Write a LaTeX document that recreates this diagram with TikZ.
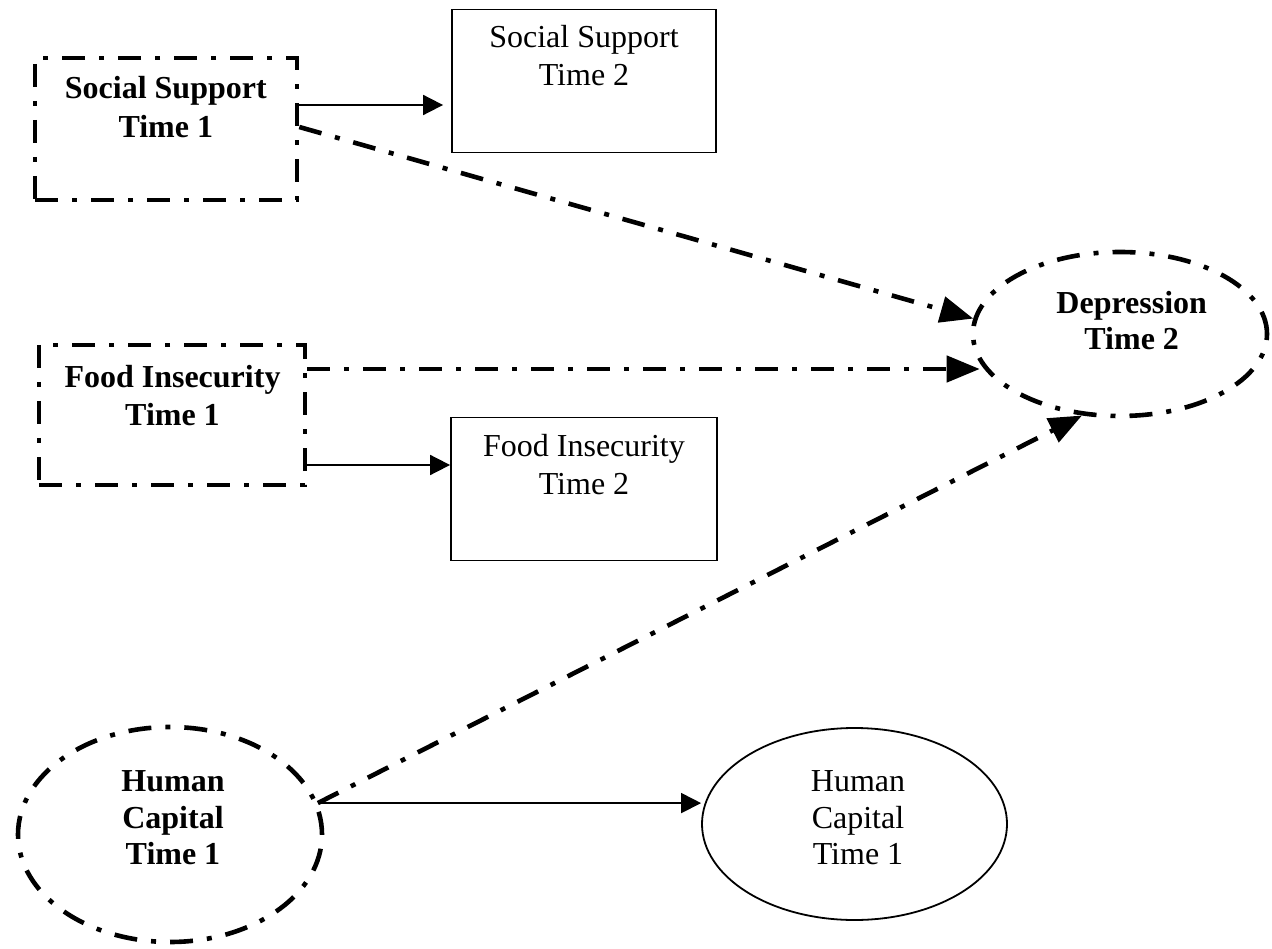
\documentclass[tikz,border=0pt]{standalone}
\usepackage{fontspec}
\setmainfont{Liberation Serif}
\usetikzlibrary{arrows.meta,shapes.geometric}
\begin{document}
\begin{tikzpicture}[x=1pt,y=-1pt,
  dd/.style={line width=4.6pt, dash pattern=on 23pt off 14pt on 5pt off 14pt},
  thin/.style={line width=1.8pt},
  ddbox/.style={draw, dd, rectangle, inner sep=0pt},
  plainbox/.style={draw, thin, rectangle, inner sep=0pt},
  ddell/.style={draw, dd, ellipse, inner sep=0pt},
  plainell/.style={draw, thin, ellipse, inner sep=0pt},
  boxtxt/.style={font=\fontsize{32}{38.5}\selectfont, align=center, anchor=north, inner sep=0pt},
  boxtxtb/.style={boxtxt, font=\fontsize{32}{38.5}\selectfont\bfseries},
  elltxt/.style={font=\fontsize{32}{36.5}\selectfont, align=center, anchor=north, inner sep=0pt},
  elltxtb/.style={elltxt, font=\fontsize{32}{36.5}\selectfont\bfseries},
  thinarrow/.style={thin, -{Triangle[length=20pt,width=20pt]}},
  thickarrow/.style={dd, -{Triangle[length=33pt,width=26pt]}}
]
\useasboundingbox (0,0) rectangle (1272,949);

% shapes
\node[ddbox, minimum width=262pt, minimum height=142pt] (ss1) at (166,129) {};
\node[plainbox, minimum width=264pt, minimum height=143pt] (ss2) at (584,81) {};
\node[ddbox, minimum width=266pt, minimum height=140pt] (fi1) at (172,415) {};
\node[plainbox, minimum width=266pt, minimum height=143pt] (fi2) at (584,489) {};
\node[ddell, minimum width=294pt, minimum height=164pt] (dep) at (1120,334) {};
\node[ddell, minimum width=304pt, minimum height=215pt] (hc1) at (170,834.5) {};
\node[plainell, minimum width=305pt, minimum height=192pt] (hc2) at (854.5,824) {};

% texts
\node[boxtxtb] (ss1t) at (165.8,76.3) {Social Support\\Time 1};
\node[boxtxt] (ss2t) at (584,25) {Social Support\\Time 2};
\node[boxtxtb] (fi1t) at (172.5,364.7) {Food Insecurity\\Time 1};
\node[boxtxt] (fi2t) at (584,434) {Food Insecurity\\Time 2};
\node[elltxtb] (dept) at (1131.7,290.7) {Depression\\Time 2};
\node[elltxtb] (hc1t) at (173,770.5) {Human\\Capital\\Time 1};
\node[elltxt] (hc2t) at (858,770.5) {Human\\Capital\\Time 1};

% connectors
\draw[thinarrow, shorten >=8pt] ([yshift=24pt]ss1.east) -- ([yshift=-24pt]ss2.west);
\draw[thickarrow] ([yshift=2pt]ss1.east) -- (dep.174);
\coordinate (f1s) at ([yshift=46pt]fi1.east);
\draw[thickarrow, shorten >=-9pt] (f1s) -- (f1s -| dep.west);
\draw[thinarrow] ([yshift=-50pt]fi1.east) -- ([yshift=24pt]fi2.west);
\coordinate (hcs) at (hc1.12);
\draw[thickarrow] (hcs) -- (dep.245);
\draw[thinarrow] (hcs) -- (hcs -| hc2.west);
\end{tikzpicture}
\end{document}
